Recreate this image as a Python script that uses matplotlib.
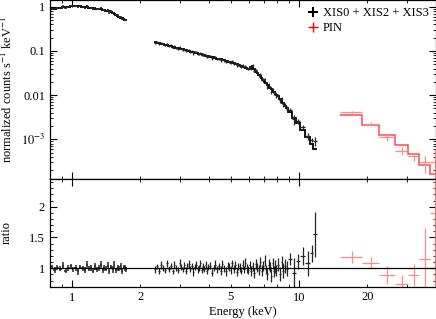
import numpy as np
import matplotlib
matplotlib.use('Agg')
import matplotlib.pyplot as plt
from matplotlib.ticker import LogLocator, FuncFormatter, MultipleLocator, NullFormatter

plt.rcParams['font.family'] = ['Liberation Serif', 'DejaVu Serif']
plt.rcParams['mathtext.fontset'] = 'stix'

# XIS (0.8-1.75 keV) bin edges, model and ratio
xis_lo_edges = [0.800, 0.825, 0.850, 0.875, 0.900, 0.925, 0.950, 0.975, 1.000, 1.025,
                1.050, 1.075, 1.100, 1.125, 1.150, 1.175, 1.200, 1.225, 1.250, 1.275,
                1.300, 1.325, 1.350, 1.375, 1.400, 1.425, 1.450, 1.475, 1.500, 1.525,
                1.550, 1.575, 1.600, 1.625, 1.650, 1.675, 1.700, 1.725, 1.750]
xis_lo_model = [0.89, 0.91, 0.93, 0.95, 0.97, 0.99, 1.01, 1.03, 1.04, 1.04,
                1.03, 1.02, 1.00, 0.99, 0.97, 0.96, 0.94, 0.93, 0.91, 0.90,
                0.88, 0.87, 0.85, 0.83, 0.82, 0.80, 0.78, 0.77, 0.74, 0.70,
                0.66, 0.63, 0.60, 0.57, 0.55, 0.53, 0.51, 0.50]
xis_lo_ratio = [1.02, 0.97, 1.01, 0.99, 1.04, 0.96, 1.00, 1.03, 0.98, 1.01,
                0.95, 1.02, 1.00, 0.97, 1.05, 0.99, 1.01, 0.96, 1.03, 0.98,
                1.00, 1.06, 0.97, 1.01, 0.99, 1.04, 0.95, 1.02, 0.98, 1.05,
                0.97, 1.01, 0.99, 1.03, 0.96, 1.02, 1.00, 0.98]
xis_lo_err = [0.04, 0.05, 0.04, 0.04, 0.06, 0.04, 0.05, 0.04, 0.04, 0.05,
              0.06, 0.04, 0.04, 0.05, 0.06, 0.04, 0.05, 0.04, 0.06, 0.04,
              0.05, 0.06, 0.04, 0.05, 0.04, 0.06, 0.05, 0.04, 0.05, 0.06,
              0.04, 0.05, 0.04, 0.06, 0.05, 0.04, 0.05, 0.04]

# XIS (2.3-11.95 keV)
xis_hi_edges = [2.30, 2.35, 2.40, 2.45, 2.50, 2.55, 2.60, 2.65, 2.70, 2.75,
                2.80, 2.85, 2.90, 2.95, 3.00, 3.05, 3.10, 3.15, 3.20, 3.25,
                3.30, 3.35, 3.40, 3.45, 3.50, 3.55, 3.60, 3.65, 3.70, 3.75,
                3.80, 3.85, 3.90, 3.95, 4.00, 4.08, 4.16, 4.24, 4.32, 4.40,
                4.48, 4.56, 4.64, 4.72, 4.80, 4.88, 4.96, 5.04, 5.12, 5.20,
                5.28, 5.36, 5.44, 5.52, 5.60, 5.68, 5.76, 5.84, 5.92, 6.00,
                6.10, 6.20, 6.30, 6.40, 6.50, 6.60, 6.70, 6.80, 6.90, 7.00,
                7.10, 7.20, 7.30, 7.40, 7.50, 7.60, 7.70, 7.80, 7.90, 8.00,
                8.15, 8.30, 8.45, 8.60, 8.75, 8.90,
                9.30, 9.70, 10.10, 10.65, 11.15, 11.55, 11.95]
xis_hi_model = [0.158, 0.154, 0.150, 0.147, 0.143, 0.139, 0.136, 0.132, 0.129, 0.125,
                0.122, 0.119, 0.116, 0.113, 0.111, 0.108, 0.106, 0.103, 0.101, 0.099,
                0.097, 0.095, 0.093, 0.091, 0.089, 0.088, 0.086, 0.084, 0.083, 0.081,
                0.080, 0.078, 0.077, 0.076,
                0.074, 0.073, 0.071, 0.069, 0.067, 0.065, 0.064, 0.062, 0.061, 0.059,
                0.058, 0.056, 0.055, 0.054, 0.052, 0.051, 0.050, 0.048, 0.047, 0.046,
                0.045, 0.044, 0.042, 0.041, 0.040,
                0.040, 0.043, 0.045, 0.039, 0.034, 0.031, 0.029, 0.027, 0.024, 0.022,
                0.020, 0.019, 0.017, 0.016, 0.0148, 0.0138, 0.0127, 0.0116, 0.0107, 0.0099,
                0.0093, 0.0083, 0.0074, 0.0065, 0.0057, 0.0050,
                0.0041, 0.0031, 0.0023, 0.0016, 0.0011, 0.00078, 0.00060]
xis_hi_ratio = [0.98, 1.03, 0.96, 1.05, 1.01, 0.97, 1.08, 0.99, 1.04, 0.95,
                1.06, 1.00, 0.97, 1.09, 1.02, 0.98, 1.05, 0.96, 1.03, 1.07,
                0.99, 1.04, 0.94, 1.02, 1.06, 0.98, 1.01, 1.08, 0.97, 1.03,
                0.99, 1.05, 0.96, 1.02,
                1.04, 0.93, 1.01, 1.06, 0.98, 1.03, 0.96, 1.07, 1.00, 0.95,
                1.04, 1.02, 0.97, 1.08, 0.99, 1.05, 0.94, 1.03, 1.01, 0.96,
                1.06, 0.98, 1.09, 1.00, 0.97,
                1.05, 0.95, 1.03, 0.92, 1.07, 1.01, 0.97, 1.10, 0.96, 1.04,
                1.12, 0.98, 0.90, 1.06, 1.02, 0.88, 1.08, 0.95, 1.03, 0.97,
                1.06, 0.91, 1.10, 0.96, 1.04, 0.99,
                1.15, 0.92, 1.11, 1.20, 1.08, 1.24, 1.55]
xis_hi_err = [0.05, 0.04, 0.05, 0.06, 0.05, 0.04, 0.06, 0.05, 0.05, 0.04,
              0.06, 0.05, 0.05, 0.06, 0.05, 0.04, 0.05, 0.06, 0.05, 0.06,
              0.05, 0.05, 0.06, 0.05, 0.06, 0.05, 0.05, 0.06, 0.05, 0.06,
              0.05, 0.06, 0.05, 0.05,
              0.06, 0.06, 0.05, 0.07, 0.06, 0.06, 0.07, 0.06, 0.06, 0.07,
              0.06, 0.06, 0.07, 0.06, 0.07, 0.06, 0.07, 0.06, 0.07, 0.06,
              0.07, 0.06, 0.07, 0.07, 0.06,
              0.07, 0.08, 0.07, 0.08, 0.08, 0.07, 0.08, 0.08, 0.09, 0.08,
              0.09, 0.08, 0.09, 0.09, 0.08, 0.10, 0.09, 0.09, 0.10, 0.09,
              0.10, 0.11, 0.10, 0.12, 0.11, 0.12,
              0.10, 0.25, 0.12, 0.15, 0.20, 0.14, 0.37]

# PIN
pin_edges = [15.1, 19.0, 22.6, 26.4, 30.3, 33.9, 37.6, 41.5]
pin_model = [3.5e-3, 2.1e-3, 1.25e-3, 7.5e-4, 4.6e-4, 2.6e-4, 1.6e-4]
pin_ratio = [1.18, 1.08, 0.89, 0.74, 0.89, 1.15, 1.9]
pin_err = [0.10, 0.10, 0.15, 0.15, 0.18, 0.50, 1.8]

fig = plt.figure(figsize=(4.36, 3.19), dpi=100)
ax1 = fig.add_axes([0.1147, 0.438, 0.8853, 0.562])
ax2 = fig.add_axes([0.1147, 0.1013, 0.8853, 0.3367], sharex=ax1)


def draw_set(edges, model, ratio, err, dcol, mcol, mlw, elw):
    e = np.array(edges)
    m = np.array(model)
    r = np.array(ratio)
    s = np.array(err)
    c = 0.5 * (e[1:] + e[:-1])
    hw = 0.5 * (e[1:] - e[:-1])
    ax1.errorbar(c, m * r, xerr=hw, yerr=m * s, fmt='none', ecolor=dcol, elinewidth=elw)
    ax1.stairs(m, e, baseline=None, color=mcol, lw=mlw)
    ax2.errorbar(c, r, xerr=hw, yerr=s, fmt='none', ecolor=dcol, elinewidth=elw)


draw_set(xis_lo_edges, xis_lo_model, xis_lo_ratio, xis_lo_err, '0.15', 'black', 1.4, 1.1)
draw_set(xis_hi_edges, xis_hi_model, xis_hi_ratio, xis_hi_err, '0.15', 'black', 1.3, 0.9)
draw_set(pin_edges, pin_model, pin_ratio, pin_err, '#ff8c8c', '#ff4a4a', 1.1, 0.9)

ax2.axhline(1.0, color='black', lw=0.9)

ax1.set_xscale('log')
ax1.set_yscale('log')
ax1.set_xlim(0.8, 40.1)
ax1.set_ylim(1.245e-4, 1.42)
ax2.set_ylim(0.7, 2.445)

labels = {1.0: '1', 0.1: '0.1', 0.01: '0.01', 1e-3: '$10^{-3}$'}
ax1.yaxis.set_major_locator(LogLocator(base=10))
ax1.yaxis.set_major_formatter(FuncFormatter(lambda v, p: labels.get(round(v, 6), '')))
ax1.yaxis.set_minor_locator(LogLocator(base=10, subs=np.arange(2, 10)))
ax1.yaxis.set_minor_formatter(NullFormatter())

ax2.xaxis.set_major_locator(LogLocator(base=10))
ax2.xaxis.set_minor_locator(LogLocator(base=10, subs=np.arange(2, 10)))
ax2.xaxis.set_major_formatter(FuncFormatter(lambda v, p: '%g' % v))
ax2.xaxis.set_minor_formatter(FuncFormatter(
    lambda v, p: '%g' % v if round(v, 3) in (2, 5, 20) else ''))
plt.setp(ax1.get_xticklabels(which='both'), visible=False)

ax2.yaxis.set_major_locator(MultipleLocator(0.5))
ax2.yaxis.set_minor_locator(MultipleLocator(0.1))
ax2.yaxis.set_major_formatter(FuncFormatter(lambda v, p: '%g' % v))

for ax in (ax1, ax2):
    ax.tick_params(which='both', direction='in', top=True, right=True, labelsize=9)
    ax.tick_params(which='major', length=5, width=0.8)
    ax.tick_params(which='minor', length=2.5, width=0.6)
    for sp in ax.spines.values():
        sp.set_linewidth(0.9)

ax1.set_ylabel('normalized counts s$^{-1}$ keV$^{-1}$', fontsize=9, labelpad=4)
ax2.set_ylabel('ratio', fontsize=9, labelpad=12)
ax2.set_xlabel('Energy (keV)', fontsize=9, labelpad=2)

h1 = plt.Line2D([], [], ls='none', marker='+', color='black', ms=7, mew=1.5)
h2 = plt.Line2D([], [], ls='none', marker='+', color='red', ms=7, mew=1.0)
ax1.legend([h1, h2], ['XIS0 + XIS2 + XIS3', 'PIN'], loc='upper right', frameon=False,
           fontsize=9, handlelength=0.8, handletextpad=0.4, labelspacing=0.2,
           borderaxespad=0.2)

fig.savefig('out.png', dpi=100)
